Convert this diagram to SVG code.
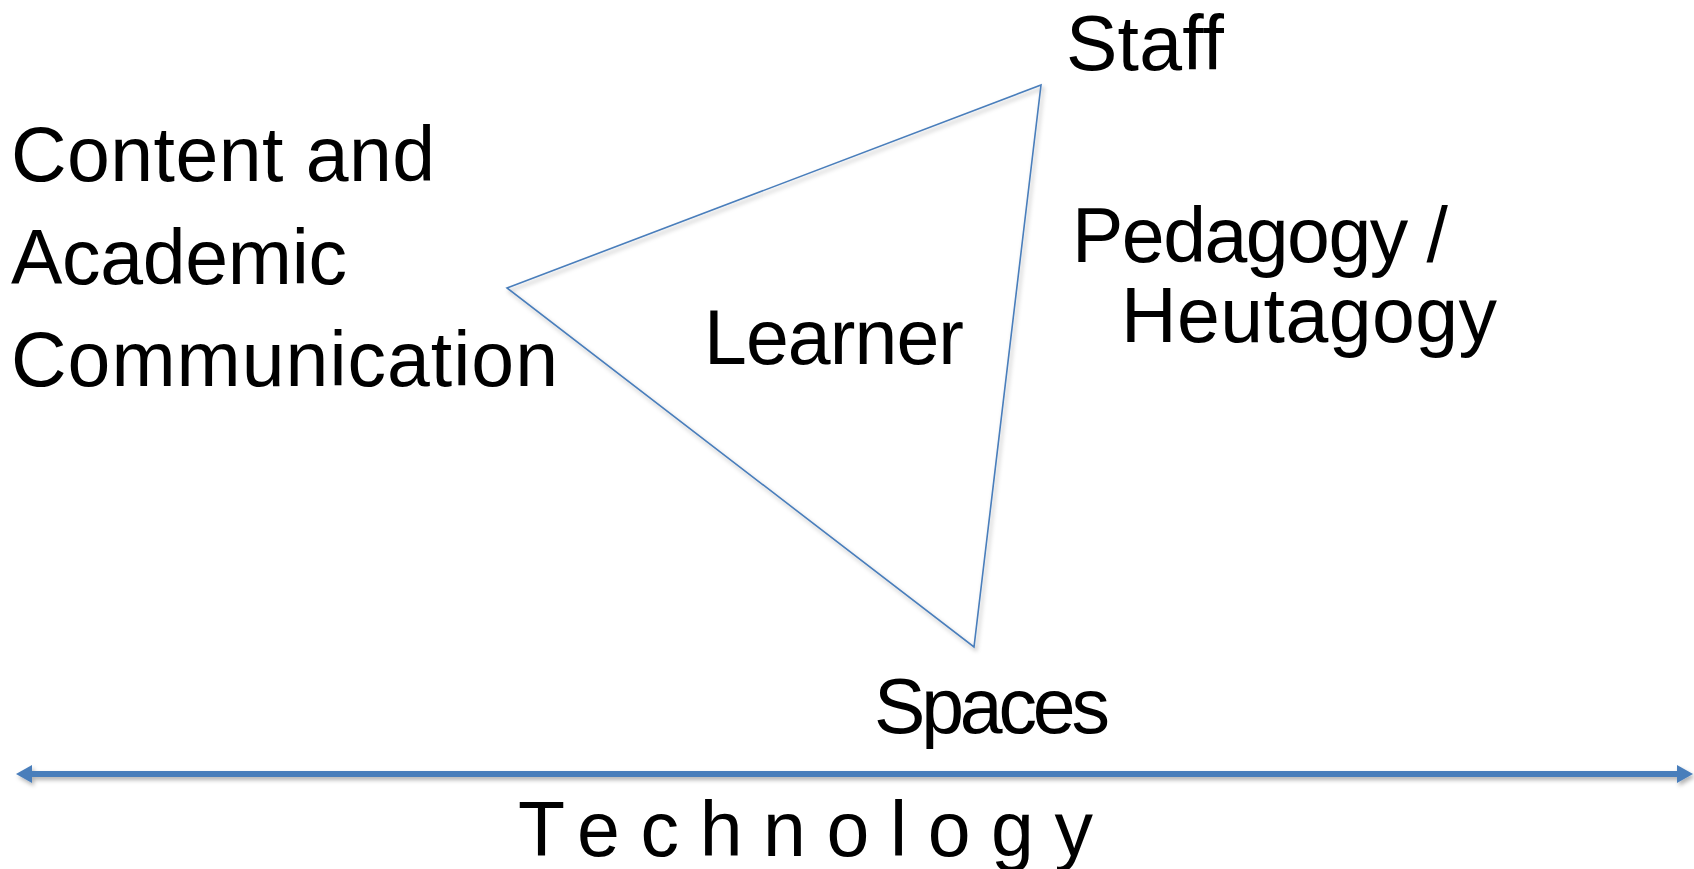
<svg xmlns="http://www.w3.org/2000/svg" width="1694" height="869" viewBox="0 0 1694 869">
<style>
  text { font-family: "Liberation Sans", Arial, sans-serif; font-size: 77px; fill: #000; }
  .tri { fill: none; stroke: #4a7ebb; stroke-width: 1.6; stroke-linejoin: miter; }
  .axis { stroke: #4a7ebb; stroke-width: 6; fill: none; }
  .head { fill: #4a7ebb; }
</style>
<defs>
  <filter id="sh" x="-5%" y="-20%" width="110%" height="160%">
    <feDropShadow dx="2" dy="3" stdDeviation="2" flood-color="#000" flood-opacity="0.3"/>
  </filter>
  <filter id="shLine" filterUnits="userSpaceOnUse" x="0" y="750" width="1694" height="50">
    <feDropShadow dx="2" dy="3" stdDeviation="2" flood-color="#000" flood-opacity="0.3"/>
  </filter>
  <marker id="arrR" markerUnits="userSpaceOnUse" markerWidth="20" markerHeight="20" refX="3" refY="10" orient="auto" overflow="visible">
    <path class="head" d="M0,1 L16,10 L0,19 Z"/>
  </marker>
  <marker id="arrL" markerUnits="userSpaceOnUse" markerWidth="20" markerHeight="20" refX="13" refY="10" orient="auto" overflow="visible">
    <path class="head" d="M16,1 L0,10 L16,19 Z"/>
  </marker>
</defs>
<rect width="1694" height="869" fill="#fff"/>
<g id="connectors">
  <polygon id="triangle" class="tri" points="507,288 1041,85 974,647" filter="url(#sh)"/>
  <line id="technology-axis" class="axis" x1="29" y1="774" x2="1680" y2="774" marker-start="url(#arrL)" marker-end="url(#arrR)" filter="url(#shLine)"/>
</g>
<g id="node-staff"><text x="1066" y="70" textLength="158" lengthAdjust="spacing">Staff</text></g>
<g id="node-content"><text x="11" y="181" textLength="424" lengthAdjust="spacing">Content and</text><text x="11" y="284" textLength="336" lengthAdjust="spacing">Academic</text><text x="11" y="386" textLength="547" lengthAdjust="spacing">Communication</text></g>
<g id="node-pedagogy"><text x="1072" y="262" textLength="376" lengthAdjust="spacing">Pedagogy /</text><text x="1121" y="342" textLength="376" lengthAdjust="spacing">Heutagogy</text></g>
<g id="node-learner"><text x="704" y="364" textLength="260" lengthAdjust="spacing">Learner</text></g>
<g id="node-spaces"><text x="874" y="733" textLength="236" lengthAdjust="spacing">Spaces</text></g>
<g id="node-technology"><text x="518" y="856" textLength="575" lengthAdjust="spacing">Technology</text></g>
</svg>
